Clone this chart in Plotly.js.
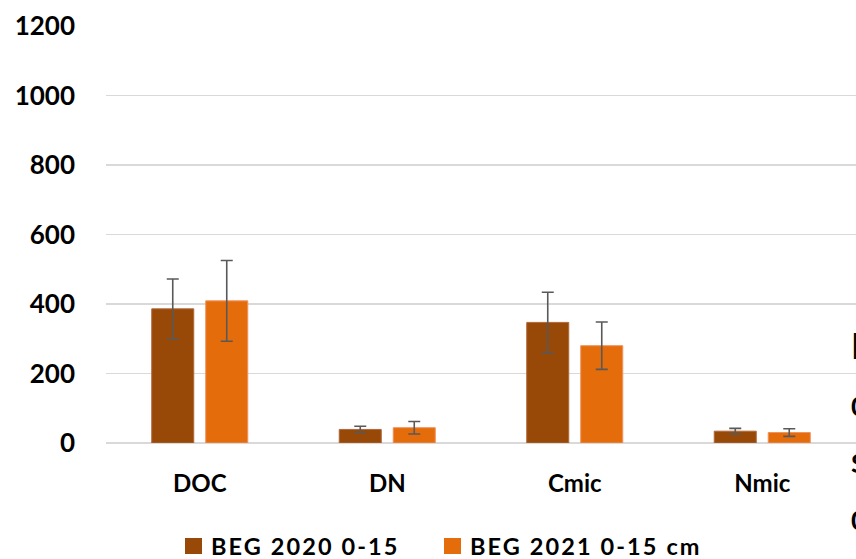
<!DOCTYPE html>
<html>
<head>
<meta charset="utf-8">
<script src="https://cdn.plot.ly/plotly-3.0.1.min.js"></script>
<style>
html,body{margin:0;padding:0;background:#fff;}
#chart{width:856px;height:559px;}
text.annotation-text{letter-spacing:2.1px;}
</style>
</head>
<body>
<div id="chart"></div>
<script>
const categories = ["DOC", "DN", "Cmic", "Nmic"];
const seriesNames = ["BEG 2020 0-15", "BEG 2021 0-15 cm"];
const values2020 = [386, 39, 347, 34];
const errors2020 = [86, 9, 87, 8];
const values2021 = [409, 44, 280, 30];
const errors2021 = [116, 18, 68, 11];
const yTicks = [0, 200, 400, 600, 800, 1000, 1200];
const sideTexts = ["I", "0", "S", "0"];

const FONT = "Lato, 'Open Sans', sans-serif";
const colors = ["#984807", "#E46C0A"];
const edge = ["#b0683a", "#f0905a"];

// plot area in pixels (for converting legend placement to paper coords)
const L = 106, R = 856, T = 26, B = 443;
const px = v => (v - L) / (R - L);
const py = v => (B - v) / (B - T);

const traces = [values2020, values2021].map((vals, i) => ({
  type: "bar", name: seriesNames[i], x: categories, y: vals, showlegend: false,
  marker: {color: colors[i], line: {color: edge[i], width: 1}},
  error_y: {type: "data", array: i === 0 ? errors2020 : errors2021, visible: true,
            color: "#595959", thickness: 1.6, width: 6}
}));

// custom legend (swatch + text), placed below the plot
const legendX = [185, 444];
const legendTextX = [210, 469];
const legendY = 546;
const shapes = seriesNames.map((n, i) => ({
  type: "rect", xref: "paper", yref: "paper",
  x0: px(legendX[i]), x1: px(legendX[i] + 17), y0: py(legendY + 8), y1: py(legendY - 8),
  fillcolor: colors[i], line: {width: 0}
}));
const legendAnn = seriesNames.map((n, i) => ({
  text: n, xref: "paper", yref: "paper", x: px(legendTextX[i]), xanchor: "left",
  y: py(legendY), yanchor: "middle", showarrow: false, borderpad: 0,
  font: {family: FONT, size: 23.5, color: "#000", weight: "bold"}
}));

const sideY = [345, 405, 462, 519];
const sideSize = [36, 27, 27, 27];
const sideAnn = sideTexts.map((t, i) => ({
  text: t, xref: "paper", yref: "paper",
  x: 1, xanchor: "left", xshift: -7,
  y: py(sideY[i]), yanchor: "middle",
  showarrow: false, font: {family: FONT, size: sideSize[i], color: "#000", weight: "bold"}
}));

const layout = {
  width: 856, height: 559,
  margin: {l: L, r: 856 - R, t: T, b: 559 - B, autoexpand: false},
  paper_bgcolor: "#fff", plot_bgcolor: "#fff",
  barmode: "group", bargap: 0.424, bargroupgap: 0.222,
  showlegend: false,
  xaxis: {type: "category", showgrid: false, showline: false, zeroline: false, ticks: "",
          tickfont: {family: FONT, size: 24, color: "#000", weight: "bold"}, ticklabelstandoff: 24},
  yaxis: {range: [0, 1200], tickvals: yTicks, ticktext: yTicks.map(String), showgrid: true,
          gridcolor: "#d9d9d9", gridwidth: 1.8, zeroline: true, zerolinecolor: "#d9d9d9", zerolinewidth: 1.8,
          showline: false, ticks: "", fixedrange: true,
          tickfont: {family: FONT, size: 26, color: "#000", weight: "bold"}, ticklabelstandoff: 30},
  shapes: shapes,
  annotations: legendAnn.concat(sideAnn)
};

Plotly.newPlot("chart", traces, layout, {displayModeBar: false, staticPlot: true});
</script>
</body>
</html>
